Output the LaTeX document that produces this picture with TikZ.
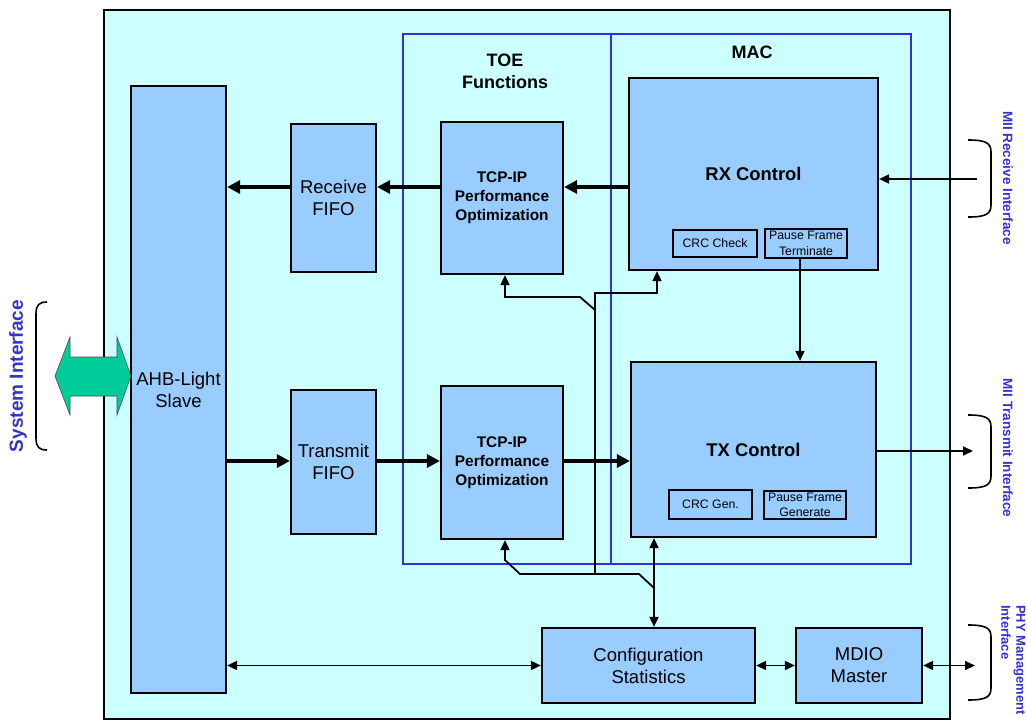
\documentclass[tikz,border=0pt]{standalone}
\usepackage{fontspec}
\setmainfont{Liberation Sans}
\usetikzlibrary{arrows.meta}
\definecolor{bgc}{HTML}{CCFFFF}
\definecolor{boxc}{HTML}{99CCFF}
\definecolor{bluec}{HTML}{3333CC}
\definecolor{greenc}{HTML}{00CC99}
\begin{document}
\begin{tikzpicture}[x=1pt,y=-1pt,
 blk/.style={draw=black, fill=boxc, line width=2.2pt, inner sep=0pt, align=center, font=\fontsize{18.5}{22}\selectfont},
 sub/.style={draw=black, fill=boxc, line width=1.8pt, inner sep=0pt, align=center, font=\fontsize{12.3}{15.5}\selectfont},
 fat/.style={line width=4.5pt, -{Triangle[length=13pt,width=13pt]}},
 thinarr/.style={line width=1.8pt, -{Triangle[length=10pt,width=9pt]}},
 thinboth/.style={line width=1.8pt, {Triangle[length=10pt,width=9pt]}-{Triangle[length=10pt,width=9pt]}},
 lbl/.style={text=bluec, inner sep=0pt, font=\bfseries\fontsize{13.5}{15}\selectfont},
 brace/.style={line width=1.6pt}
]
\useasboundingbox (0,0) rectangle (1027,720);
% background frame
\draw[fill=bgc, line width=2pt] (104,10) rectangle (950,719);
% TOE and MAC frames
\draw[bluec, line width=2pt] (403,34) rectangle (611,564);
\draw[bluec, line width=2pt] (611,34) rectangle (911,564);
\node[font=\bfseries\fontsize{18}{22}\selectfont, align=center, inner sep=0pt] (toe) at (505,71) {TOE\\Functions};
\node[font=\bfseries\fontsize{18}{22}\selectfont, inner sep=0pt] (mac) at (752,52) {MAC};

% blocks
\node[blk, minimum width=95pt, minimum height=607pt] (ahb) at (178.5,389.5) {AHB-Light\\Slave};
\node[blk, minimum width=85pt, minimum height=148pt] (rxf) at (333.5,198) {Receive\\FIFO};
\node[blk, minimum width=85pt, minimum height=144pt] (txf) at (333.5,462) {Transmit\\FIFO};
\node[blk, minimum width=122pt, minimum height=152pt, font=\bfseries\fontsize{15.4}{19}\selectfont] (tcp1) at (502,198) {TCP-IP\\Performance\\Optimization};
\node[blk, minimum width=122pt, minimum height=153pt, font=\bfseries\fontsize{15.4}{19}\selectfont] (tcp2) at (502,462.5) {TCP-IP\\Performance\\Optimization};
\node[blk, minimum width=249pt, minimum height=192pt, font=\bfseries\fontsize{18.4}{22}\selectfont] (rx) at (753.5,174) {RX Control};
\node[blk, minimum width=245pt, minimum height=175pt, font=\bfseries\fontsize{18.4}{22}\selectfont] (tx) at (753.5,449.5) {TX Control};
\node[blk, minimum width=213pt, minimum height=75pt] (cfg) at (648.5,665.5) {Configuration\\Statistics};
\node[blk, minimum width=126pt, minimum height=75pt] (mdio) at (859,665.5) {MDIO\\Master};

% sub blocks
\node[sub, minimum width=84pt, minimum height=27pt] (crcc) at (715,243.5) {CRC Check};
\node[sub, minimum width=82pt, minimum height=29pt] (pft) at (806,243.5) {Pause Frame\\Terminate};
\node[sub, minimum width=83pt, minimum height=29pt] (crcg) at (710.5,504.5) {CRC Gen.};
\node[sub, minimum width=82pt, minimum height=28pt] (pfg) at (805,505) {Pause Frame\\Generate};

% thick data arrows
\coordinate (rrow) at (0,187);
\coordinate (trow) at (0,461);
\draw[fat] (rx.west |- rrow) -- (tcp1.east |- rrow);
\draw[fat] (tcp1.west |- rrow) -- (rxf.east |- rrow);
\draw[fat] (rxf.west |- rrow) -- (ahb.east |- rrow);
\draw[fat] (ahb.east |- trow) -- (txf.west |- trow);
\draw[fat] (txf.east |- trow) -- (tcp2.west |- trow);
\draw[fat] (tcp2.east |- trow) -- (tx.west |- trow);

% thin connectors
\coordinate (prx) at (977,179);
\draw[thinarr] (prx) -- (prx -| rx.east);
\draw[thinarr] ([xshift=-6pt]pft.south) -- ([xshift=-6pt]pft.south |- tx.north);
\coordinate (ptx) at (973,451);
\draw[thinarr] (tx.east |- ptx) -- (ptx);
\draw[thinboth] (ahb.east |- cfg.west) -- (cfg.west);
\draw[thinboth] (cfg.east) -- (mdio.west);
\coordinate (pphy) at (975,666);
\draw[thinboth] (mdio.east) -- (pphy |- mdio.east);

% control network
\coordinate (cv) at (654,0);
\draw[thinboth] (tx.south -| cv) -- (cfg.north -| cv);
\coordinate (j1) at (654,588);
\coordinate (j2) at (639,574);
\coordinate (j3) at (520,574);
\coordinate (j4) at (505,560);
\draw[thinarr] (j1) -- (j2) -- (j3) -- (j4) -- (j4 |- tcp2.south);
\coordinate (v0) at (595,574);
\coordinate (v1) at (595,293);
\coordinate (k1) at (657,293);
\draw[thinarr] (v0) -- (v1) -- (k1) -- (k1 |- rx.south);
\coordinate (m1) at (595,310);
\coordinate (m2) at (580,297);
\coordinate (m3) at (505,297);
\draw[thinarr] (m1) -- (m2) -- (m3) -- (m3 |- tcp1.south);

% system interface arrow
\draw[fill=greenc, draw=black!70, line width=0.6pt] (55,376) -- (70,337) -- (70,357) -- (117,357) -- (117,337) -- (131,376) -- (117,415) -- (117,396) -- (70,396) -- (70,415) -- cycle;

% braces
\draw[brace] (47,302) .. controls (39,302) and (36,305) .. (36,314) -- (36,438) .. controls (36,447) and (39,450) .. (47,450);
\draw[brace] (968,140) .. controls (986,140) and (991,143) .. (991,152) -- (991,205) .. controls (991,214) and (986,217) .. (968,217);
\draw[brace] (968,415) .. controls (986,415) and (991,418) .. (991,427) -- (991,476) .. controls (991,485) and (986,488) .. (968,488);
\draw[brace] (968,625) .. controls (986,625) and (991,628) .. (991,637) -- (991,688) .. controls (991,697) and (986,700) .. (968,700);

% labels
\node[lbl, font=\bfseries\fontsize{19}{22}\selectfont, rotate=90] (lsys) at (18,376) {System Interface};
\node[lbl, rotate=-90] (lrx) at (1008,178) {MII Receive Interface};
\node[lbl, rotate=-90] (ltx) at (1008,448) {MII Transmit Interface};
\node[lbl, font=\bfseries\fontsize{13}{15}\selectfont, rotate=-90, align=left, anchor=north west] (lphy) at (1025.5,605) {PHY Management\\Interface};
\end{tikzpicture}
\end{document}
